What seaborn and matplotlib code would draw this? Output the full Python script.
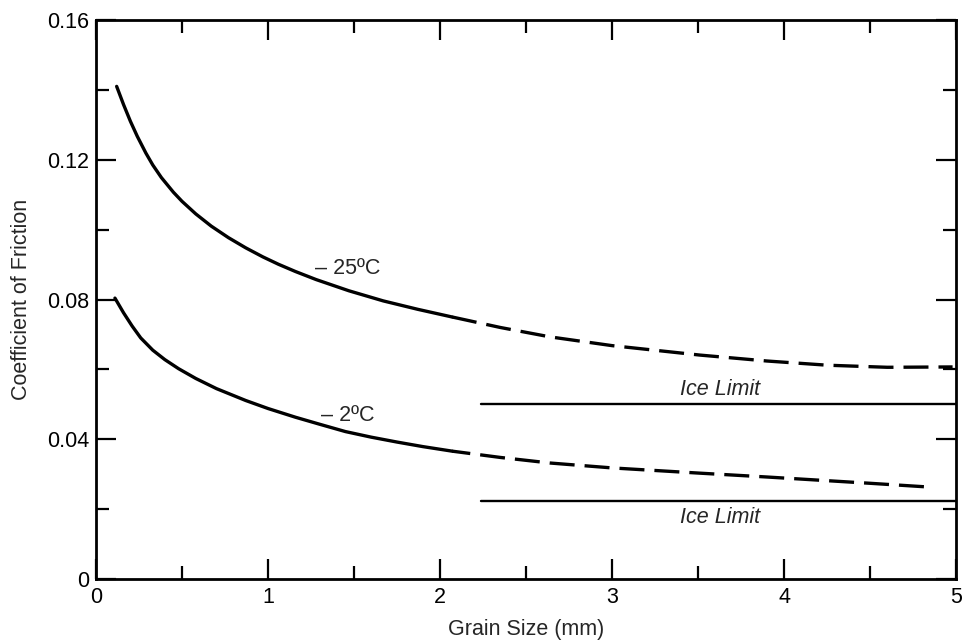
import numpy as np
import pandas as pd
import matplotlib
matplotlib.use("Agg")
import matplotlib.pyplot as plt
from matplotlib.ticker import MultipleLocator, FixedFormatter, FixedLocator
import seaborn as sns

# -25 C curve (solid part, then dashed extrapolation)
x_25_solid = [0.12, 0.16, 0.20, 0.24, 0.29, 0.33, 0.38, 0.45, 0.50, 0.58, 0.67, 0.77, 0.87,
              0.97, 1.06, 1.16, 1.28, 1.47, 1.67, 1.87, 2.07]
y_25_solid = [0.1410, 0.1358, 0.1310, 0.1267, 0.1219, 0.1185, 0.1149, 0.1107, 0.1081, 0.1045,
              0.1010, 0.0977, 0.0948, 0.0922, 0.0901, 0.0880, 0.0857, 0.0825, 0.0796, 0.0772, 0.0750]
x_25_dash = [2.07, 2.35, 2.64, 3.00, 3.51, 3.90, 4.25, 4.60, 4.98]
y_25_dash = [0.0750, 0.0720, 0.0693, 0.0668, 0.0641, 0.0624, 0.0612, 0.0606, 0.0607]

# -2 C curve
x_2_solid = [0.11, 0.16, 0.21, 0.26, 0.33, 0.40, 0.48, 0.58, 0.70, 0.87, 1.00, 1.16, 1.30,
             1.45, 1.60, 1.75, 1.90, 2.07]
y_2_solid = [0.0804, 0.0762, 0.0724, 0.0690, 0.0655, 0.0628, 0.0602, 0.0574, 0.0545, 0.0511,
             0.0488, 0.0463, 0.0443, 0.0422, 0.0406, 0.0392, 0.0379, 0.0366]
x_2_dash = [2.07, 2.35, 2.64, 3.00, 3.51, 3.90, 4.20, 4.50, 4.85]
y_2_dash = [0.0366, 0.0348, 0.0332, 0.0318, 0.0303, 0.0292, 0.0283, 0.0274, 0.0263]

# ice limits
ice_x = [2.24, 5.0]
ice_upper = 0.0500
ice_lower = 0.0223

x_ticks = [0, 1, 2, 3, 4, 5]
y_ticks = [0, 0.04, 0.08, 0.12, 0.16]
y_tick_labels = ["0", "0.04", "0.08", "0.12", "0.16"]

sns.set_theme(style="ticks")
plt.rcParams['font.family'] = ['Liberation Sans', 'DejaVu Sans']

fig = plt.figure(figsize=(9.65, 6.41), dpi=100)
ax = fig.add_axes([0.0995, 0.0967, 0.8912, 0.8721])

lw = 2.4
dash = (0, (7.5, 3))
sns.lineplot(x=x_25_solid, y=y_25_solid, ax=ax, color="black", lw=lw, sort=False)
sns.lineplot(x=x_25_dash, y=y_25_dash, ax=ax, color="black", lw=lw, sort=False, linestyle=dash)
sns.lineplot(x=x_2_solid, y=y_2_solid, ax=ax, color="black", lw=lw, sort=False)
sns.lineplot(x=x_2_dash, y=y_2_dash, ax=ax, color="black", lw=lw, sort=False,
             linestyle=(2, (7.5, 3)))
sns.lineplot(x=ice_x, y=[ice_upper] * 2, ax=ax, color="black", lw=1.7)
sns.lineplot(x=ice_x, y=[ice_lower] * 2, ax=ax, color="black", lw=1.7)

fs = 15.5
ax.text(1.465, 0.0890, "\u2013 25\u00baC", ha="center", va="center", fontsize=fs)
ax.text(1.465, 0.0469, "\u2013 2\u00baC", ha="center", va="center", fontsize=fs)
ax.text(3.63, 0.0541, "Ice Limit", ha="center", va="center", fontsize=fs, style="italic")
ax.text(3.63, 0.0175, "Ice Limit", ha="center", va="center", fontsize=fs, style="italic")

ax.set_xlim(0, 5)
ax.set_ylim(0, 0.16)
ax.xaxis.set_major_locator(FixedLocator(x_ticks))
ax.xaxis.set_minor_locator(MultipleLocator(0.5))
ax.yaxis.set_major_locator(FixedLocator(y_ticks))
ax.yaxis.set_major_formatter(FixedFormatter(y_tick_labels))
ax.yaxis.set_minor_locator(MultipleLocator(0.02))

ax.tick_params(which="both", direction="in", top=True, right=True, width=1.6, color="black",
               labelsize=fs, labelcolor="black")
ax.tick_params(which="major", length=14.5)
ax.tick_params(which="minor", length=9.5)
ax.tick_params(axis="x", which="major", pad=6)
ax.tick_params(axis="y", which="major", pad=5)
for s in ax.spines.values():
    s.set_linewidth(2.0)
    s.set_color("black")

ax.set_xlabel("Grain Size (mm)", fontsize=fs, labelpad=8)
ax.set_ylabel("Coefficient of Friction", fontsize=fs, labelpad=11)

fig.savefig("out.png", dpi=100)
